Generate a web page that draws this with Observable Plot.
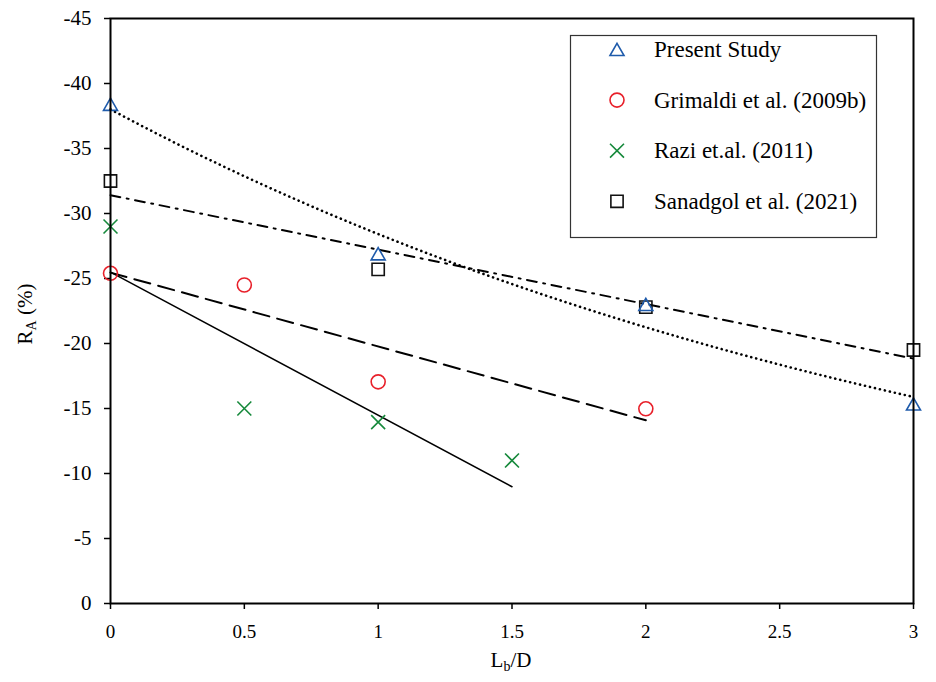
<!DOCTYPE html>
<html>
<head>
<meta charset="utf-8">
<script src="https://cdn.jsdelivr.net/npm/d3@7"></script>
<script src="https://cdn.jsdelivr.net/npm/@observablehq/plot@0.6"></script>
<style>
  html, body { margin: 0; padding: 0; background: #fff; }
  #chart { width: 936px; height: 682px; }
</style>
</head>
<body>
<div id="chart"></div>
<script>
// ---- data ----
const seriesNames = ["Present Study", "Grimaldi et al. (2009b)", "Razi et.al. (2011)", "Sanadgol et al. (2021)"];
const presentX = [0, 1, 2, 3];
const presentY = [-38.4, -26.9, -23.0, -15.35];
const grimaldiX = [0, 0.5, 1, 2];
const grimaldiY = [-25.4, -24.5, -17.05, -14.98];
const raziX = [0, 0.5, 1, 1.5];
const raziY = [-29.0, -15.0, -13.95, -11.0];
const sanadgolX = [0, 1, 2, 3];
const sanadgolY = [-32.5, -25.7, -22.8, -19.5];
const xTicks = [0, 0.5, 1, 1.5, 2, 2.5, 3];
const yTicks = [-45, -40, -35, -30, -25, -20, -15, -10, -5, 0];

const toRows = (xs, ys) => xs.map((x, i) => ({x, y: ys[i]}));
const present = toRows(presentX, presentY);
const grimaldi = toRows(grimaldiX, grimaldiY);
const razi = toRows(raziX, raziY);
const sanadgol = toRows(sanadgolX, sanadgolY);

// exponential trendline (Excel-style) fitted to the Present Study points
function expFit(rows) {
  const n = rows.length;
  const lx = rows.map(d => d.x), ly = rows.map(d => Math.log(-d.y));
  const mx = d3.mean(lx), my = d3.mean(ly);
  let sxy = 0, sxx = 0;
  for (let i = 0; i < n; i++) { sxy += (lx[i] - mx) * (ly[i] - my); sxx += (lx[i] - mx) ** 2; }
  const b = sxy / sxx, a = Math.exp(my - b * mx);
  const [x0, x1] = d3.extent(lx);
  return d3.range(0, 61).map(i => { const x = x0 + (x1 - x0) * i / 60; return {x, y: -a * Math.exp(b * x)}; });
}
const presentTrend = expFit(present);

const colors = {present: "#1f5bab", grimaldi: "#e8202a", razi: "#16893b", sanadgol: "#111111"};
const SYM = {
  present: {symbol: d3.symbolTriangle, r: 5.2, dy: 2},
  grimaldi: {symbol: d3.symbolCircle, r: 7, dy: 0},
  razi: {symbol: d3.symbolTimes, r: 6.4, dy: 0},
  sanadgol: {symbol: d3.symbolSquare, r: 6.9, dy: 0}
};
const font = "'Liberation Serif', 'Times New Roman', serif";

const chart = Plot.plot({
  width: 936,
  height: 682,
  marginLeft: 110,
  marginRight: 23,
  marginTop: 18,
  marginBottom: 79,
  style: {fontFamily: font, fontSize: "20px", color: "black", background: "white"},
  x: {domain: [0, 3]},
  y: {domain: [0, -45]},
  marks: [
    Plot.axisY({ticks: yTicks, tickSize: 6, tickPadding: 13, tickFormat: d => String(d), label: null, strokeWidth: 1.5}),
    Plot.axisX({ticks: xTicks, tickSize: 6, tickPadding: 15, tickFormat: d => String(d), label: null, strokeWidth: 1.5}),
    // trendlines
    Plot.line(presentTrend, {x: "x", y: "y", stroke: "black", strokeWidth: 2.6, strokeDasharray: "0.1,5", strokeLinecap: "round"}),
    Plot.linearRegressionY(sanadgol, {x: "x", y: "y", ci: 0, stroke: "black", strokeWidth: 2, strokeDasharray: "10,6.5,2,6.5"}),
    Plot.linearRegressionY(grimaldi, {x: "x", y: "y", ci: 0, stroke: "black", strokeWidth: 2, strokeDasharray: "16.5,8.2"}),
    Plot.linearRegressionY(razi, {x: "x", y: "y", ci: 0, stroke: "black", strokeWidth: 1.5}),
    // points
    Plot.dot(razi, {x: "x", y: "y", symbol: SYM.razi.symbol, r: SYM.razi.r, stroke: colors.razi, strokeWidth: 1.6, fill: "none"}),
    Plot.dot(grimaldi, {x: "x", y: "y", symbol: SYM.grimaldi.symbol, r: SYM.grimaldi.r, stroke: colors.grimaldi, strokeWidth: 1.6, fill: "none"}),
    Plot.dot(sanadgol, {x: "x", y: "y", symbol: SYM.sanadgol.symbol, r: SYM.sanadgol.r, stroke: colors.sanadgol, strokeWidth: 1.6, fill: "none"}),
    Plot.dot(present, {x: "x", y: "y", symbol: SYM.present.symbol, r: SYM.present.r, dy: SYM.present.dy, stroke: colors.present, strokeWidth: 1.6, fill: "none"}),
    Plot.frame({stroke: "black", strokeWidth: 2})
  ]
});

document.getElementById("chart").appendChild(chart);
const svg = d3.select(chart);
svg.selectAll('g[aria-label="y-axis tick label"]').attr("font-size", 21).selectAll("text").attr("font-size", 21);
svg.selectAll('g[aria-label="x-axis tick label"]').attr("font-size", 19).selectAll("text").attr("font-size", 19);

// axis titles with subscripts
const yTitle = svg.append("text")
  .attr("transform", "translate(32,314) rotate(-90)")
  .attr("text-anchor", "middle")
  .attr("font-family", font).attr("font-size", 21).attr("fill", "black");
yTitle.append("tspan").text("R");
yTitle.append("tspan").attr("font-size", 14).attr("dy", 4).text("A");
yTitle.append("tspan").attr("dy", -4).text(" (%)");

const xTitle = svg.append("text")
  .attr("x", 511).attr("y", 667)
  .attr("text-anchor", "middle")
  .attr("font-family", font).attr("font-size", 21).attr("fill", "black");
xTitle.append("tspan").text("L");
xTitle.append("tspan").attr("font-size", 14).attr("dy", 4).text("b");
xTitle.append("tspan").attr("dy", -4).text("/D");

// legend
const legend = svg.append("g").attr("text-anchor", "start");
legend.append("rect").attr("x", 570.5).attr("y", 35.5).attr("width", 306).attr("height", 202)
  .attr("fill", "white").attr("stroke", "#333").attr("stroke-width", 1.2);
const keys = ["present", "grimaldi", "razi", "sanadgol"];
keys.forEach((k, i) => {
  const cy = 49.5 + i * 50.6;
  const s = SYM[k];
  legend.append("path")
    .attr("d", d3.symbol(s.symbol, s.r * s.r * Math.PI)())
    .attr("transform", `translate(617,${cy + s.dy})`)
    .attr("fill", "none").attr("stroke", colors[k]).attr("stroke-width", 1.6);
  legend.append("text").attr("x", 654).attr("y", cy + 7.5)
    .attr("text-anchor", "start")
    .attr("font-family", font).attr("font-size", 23).attr("fill", "black")
    .text(seriesNames[i]);
});
</script>
</body>
</html>
